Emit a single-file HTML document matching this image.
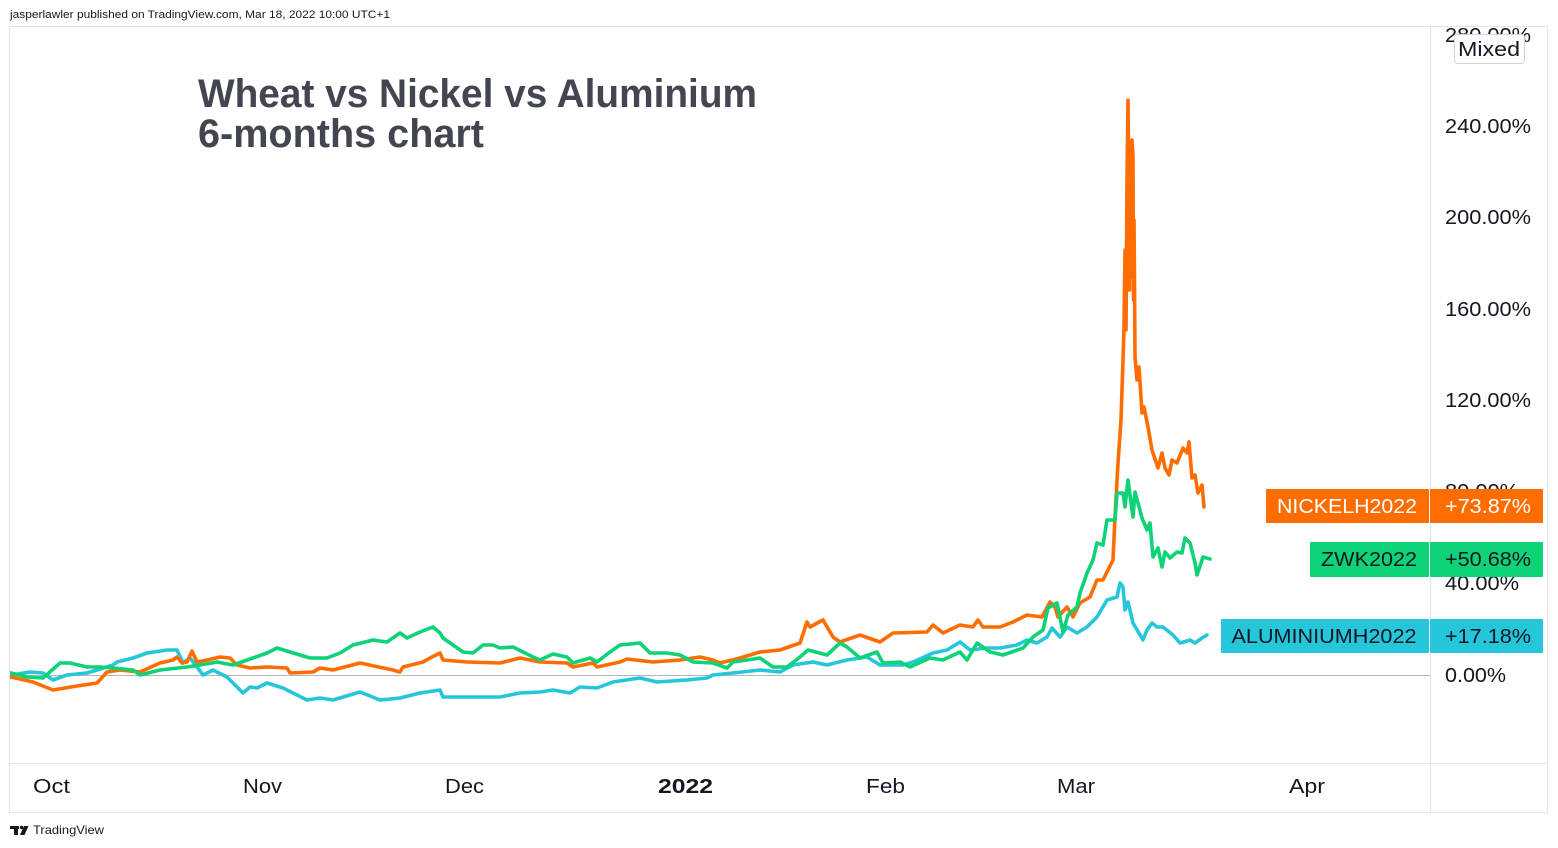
<!DOCTYPE html>
<html>
<head>
<meta charset="utf-8">
<style>
html,body{margin:0;padding:0;background:#fff;}
svg{display:block;}
text{font-family:"Liberation Sans","DejaVu Sans",sans-serif;}
</style>
</head>
<body>
<svg width="1558" height="848" viewBox="0 0 1558 848" xmlns="http://www.w3.org/2000/svg">
<defs>
<clipPath id="pane"><rect x="10" y="27" width="1420" height="736"/></clipPath>
<clipPath id="axis"><rect x="1431" y="27" width="117" height="736"/></clipPath>
</defs>
<rect x="0" y="0" width="1558" height="848" fill="#ffffff"/>
<!-- header -->
<text x="10" y="18" font-size="11" fill="#131722" textLength="380" lengthAdjust="spacingAndGlyphs">jasperlawler published on TradingView.com, Mar 18, 2022 10:00 UTC+1</text>

<!-- frame -->
<rect x="9.5" y="26.5" width="1538" height="786" fill="none" stroke="#e0e3eb" stroke-width="1"/>
<line x1="1430.5" y1="27" x2="1430.5" y2="812" stroke="#e0e3eb" stroke-width="1"/>
<line x1="10" y1="763.5" x2="1547" y2="763.5" stroke="#e0e3eb" stroke-width="1"/>

<!-- zero line -->
<line x1="10" y1="675.5" x2="1430" y2="675.5" stroke="#b2b5be" stroke-width="1"/>

<!-- title -->
<text x="198" y="107" font-size="40" font-weight="bold" fill="#434651" textLength="559" lengthAdjust="spacingAndGlyphs">Wheat vs Nickel vs Aluminium</text>
<text x="198" y="147" font-size="40" font-weight="bold" fill="#434651" textLength="286" lengthAdjust="spacingAndGlyphs">6-months chart</text>

<g clip-path="url(#pane)" fill="none" stroke-width="3.6" stroke-linejoin="round" stroke-linecap="round">
<polyline stroke="#26c6da" points="11,675 30,672 43,673 53,680 67,675 87,673 97,670 113,665 117,662 133,658 147,653 167,650 177,650 183,663 190,658 197,667 203,675 213,670 227,677 237,687 243,693 250,687 257,688 267,683 283,688 293,693 307,700 320,698 333,700 360,692 380,700 400,698 420,693 440,690 443,697 467,697 500,697 520,693 540,692 553,690 570,693 580,687 597,688 613,682 640,678 657,682 687,680 707,678 713,675 733,673 760,670 780,672 793,665 813,662 827,665 847,660 867,657 880,665 903,665 913,662 933,653 947,650 960,642 970,650 987,648 1000,648 1017,645 1027,640 1037,643 1047,637 1052,628 1060,637 1067,627 1077,633 1087,627 1097,617 1107,600 1117,597 1120,583 1123,587 1125,610 1128,602 1133,623 1143,640 1147,630 1152,623 1157,627 1163,627 1173,635 1180,643 1190,640 1195,643 1202,638 1207,635"/>
<polyline stroke="#ff6d00" points="11,677 33,682 53,690 77,686 97,683 107,672 120,670 140,672 160,663 173,660 177,657 182,663 187,662 192,651 197,662 207,660 220,657 230,658 237,665 250,668 267,667 287,668 290,673 313,672 320,668 333,670 360,663 393,670 400,672 403,667 423,662 430,658 440,653 443,660 467,662 500,663 520,658 540,662 567,663 573,667 593,663 597,667 620,662 627,659 653,662 680,660 700,657 713,660 720,663 740,658 760,652 780,650 800,643 807,622 810,627 823,620 833,637 840,642 860,635 880,642 893,633 927,632 933,625 943,633 960,625 973,627 978,620 983,627 1000,627 1013,622 1027,615 1042,617 1050,602 1055,607 1058,617 1067,607 1073,617 1080,603 1090,597 1097,580 1103,580 1113,560 1115,517 1118,463 1121,420 1123,360 1124,327 1125,250 1126,330 1127,180 1128,100 1129,200 1129.5,290 1130,170 1131,277 1132,140 1133,157 1133.5,300 1134,220 1134.5,280 1135,357 1137,380 1139,367 1142,413 1144,407 1148,427 1152,450 1158,468 1162,453 1165,468 1169,475 1172,460 1177,463 1183,448 1187,453 1189,442 1192,478 1195,475 1198,493 1202,485 1204,507"/>
<polyline stroke="#0ed276" points="11,673 27,677 43,678 60,663 70,663 87,667 100,667 113,668 133,670 140,675 160,670 187,667 200,665 217,662 233,665 253,658 267,653 277,648 290,652 310,658 327,658 340,653 353,645 373,640 387,642 400,633 407,638 420,632 433,627 440,633 443,638 463,652 473,653 483,645 493,645 500,648 513,647 533,657 540,660 553,654 567,657 573,663 590,658 597,662 610,652 620,645 640,643 650,653 667,653 680,655 693,662 713,663 727,668 733,662 747,660 760,658 773,667 787,667 800,657 808,650 827,655 840,643 847,647 860,658 877,652 883,663 900,662 910,667 930,658 943,660 960,652 967,660 977,643 990,652 1003,655 1023,648 1033,637 1043,630 1048,608 1057,603 1063,632 1068,615 1077,607 1080,593 1087,573 1093,560 1097,543 1103,545 1107,520 1115,520 1117,493 1123,493 1125,507 1128,480 1133,517 1135,492 1138,503 1142,518 1147,530 1150,523 1153,557 1158,548 1162,567 1165,552 1170,558 1177,552 1182,553 1185,538 1190,543 1195,563 1197,575 1203,557 1210,559"/>
</g>

<!-- price axis labels -->
<g clip-path="url(#axis)" font-size="20" fill="#131722">
<text x="1445" y="42" textLength="86" lengthAdjust="spacingAndGlyphs">280.00%</text>
<text x="1445" y="133" textLength="86" lengthAdjust="spacingAndGlyphs">240.00%</text>
<text x="1445" y="224" textLength="86" lengthAdjust="spacingAndGlyphs">200.00%</text>
<text x="1445" y="316" textLength="86" lengthAdjust="spacingAndGlyphs">160.00%</text>
<text x="1445" y="407" textLength="86" lengthAdjust="spacingAndGlyphs">120.00%</text>
<text x="1445" y="498" textLength="74" lengthAdjust="spacingAndGlyphs">80.00%</text>
<text x="1445" y="590" textLength="74" lengthAdjust="spacingAndGlyphs">40.00%</text>
<text x="1445" y="682" textLength="61" lengthAdjust="spacingAndGlyphs">0.00%</text>
</g>

<!-- Mixed badge -->
<rect x="1454.5" y="34.5" width="70" height="29" rx="3" ry="3" fill="#ffffff" stroke="#d1d4dc" stroke-width="1"/>
<text x="1489" y="56" font-size="20" fill="#131722" text-anchor="middle" textLength="62" lengthAdjust="spacingAndGlyphs">Mixed</text>

<!-- series labels -->
<rect x="1266" y="489" width="163" height="34" rx="1" fill="#ff6d00"/>
<rect x="1430" y="489" width="113" height="34" rx="1" fill="#ff6d00"/>
<text x="1347" y="513" font-size="20" fill="#ffffff" text-anchor="middle" textLength="140" lengthAdjust="spacingAndGlyphs">NICKELH2022</text>
<text x="1488" y="513" font-size="20" fill="#ffffff" text-anchor="middle" textLength="86" lengthAdjust="spacingAndGlyphs">+73.87%</text>

<rect x="1310" y="542" width="119" height="35" rx="1" fill="#0ed276"/>
<rect x="1430" y="542" width="113" height="35" rx="1" fill="#0ed276"/>
<text x="1369" y="566" font-size="20" fill="#131722" text-anchor="middle" textLength="96" lengthAdjust="spacingAndGlyphs">ZWK2022</text>
<text x="1488" y="566" font-size="20" fill="#131722" text-anchor="middle" textLength="86" lengthAdjust="spacingAndGlyphs">+50.68%</text>

<rect x="1221" y="619" width="208" height="34" rx="1" fill="#26c6da"/>
<rect x="1430" y="619" width="113" height="34" rx="1" fill="#26c6da"/>
<text x="1324" y="643" font-size="20" fill="#131722" text-anchor="middle" textLength="185" lengthAdjust="spacingAndGlyphs">ALUMINIUMH2022</text>
<text x="1488" y="643" font-size="20" fill="#131722" text-anchor="middle" textLength="86" lengthAdjust="spacingAndGlyphs">+17.18%</text>

<!-- time axis labels -->
<g font-size="20" fill="#131722">
<text x="33" y="793" textLength="37" lengthAdjust="spacingAndGlyphs">Oct</text>
<text x="243" y="793" textLength="39" lengthAdjust="spacingAndGlyphs">Nov</text>
<text x="445" y="793" textLength="39" lengthAdjust="spacingAndGlyphs">Dec</text>
<text x="658" y="793" font-weight="bold" textLength="55" lengthAdjust="spacingAndGlyphs">2022</text>
<text x="866" y="793" textLength="39" lengthAdjust="spacingAndGlyphs">Feb</text>
<text x="1057" y="793" textLength="38" lengthAdjust="spacingAndGlyphs">Mar</text>
<text x="1289" y="793" textLength="36" lengthAdjust="spacingAndGlyphs">Apr</text>
</g>

<!-- footer -->
<g fill="#131722">
<rect x="10" y="826" width="9" height="3"/>
<rect x="14" y="826" width="4" height="9"/>
<circle cx="21.5" cy="827.5" r="1.7"/>
<polygon points="24,826 28.5,826 24.5,835 20,835"/>
</g>
<text x="33" y="834" font-size="12" fill="#131722" textLength="71" lengthAdjust="spacingAndGlyphs">TradingView</text>
</svg>
</body>
</html>
